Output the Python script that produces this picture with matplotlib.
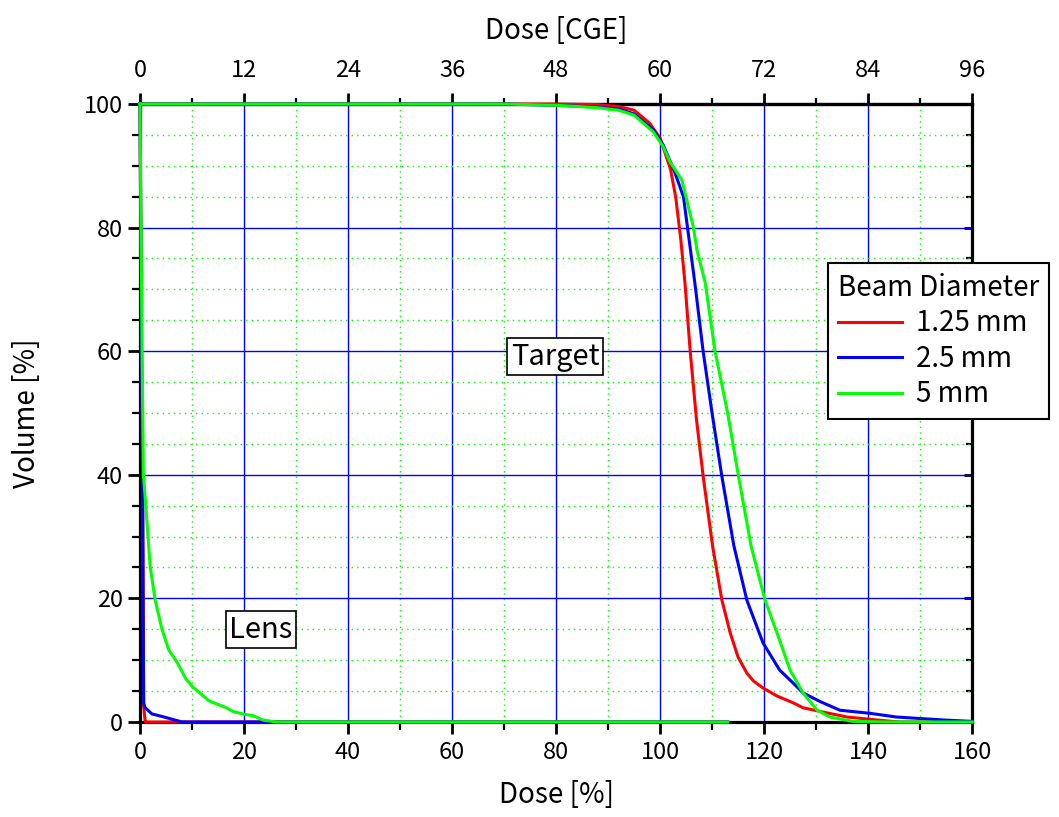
import matplotlib
matplotlib.use("Agg")
import matplotlib.pyplot as plt
from matplotlib.ticker import MultipleLocator, NullFormatter, FixedLocator

plt.rcParams['font.family'] = ['Noto Sans CJK JP', 'DejaVu Sans']

# ---- data (Dose [%], Volume [%]) ----
red_t_x = [0, 80, 88, 92, 95, 98, 100, 102, 103, 104, 104.8, 105.8, 107, 108.3, 110.1,
           111.9, 113.5, 115, 116.7, 118, 119.8, 122.5, 125.6, 127.5, 130.8, 136, 142, 146, 160]
red_t_y = [100, 100, 99.9, 99.6, 99, 96.9, 94.5, 89.5, 85, 78, 71, 60, 49, 39.7, 28.5,
           19.7, 14.4, 10.5, 7.9, 6.6, 5.5, 4.2, 3.1, 2.3, 1.7, 0.8, 0.3, 0, 0]

blue_t_x = [0, 70, 80, 88, 92, 95, 98.7, 100.6, 102.9, 104.5, 105.6, 106.7, 108.3, 110,
            111.9, 114.2, 116.7, 119.8, 123, 125.6, 127.5, 130.8, 134.6, 140.4, 145.5, 155, 160]
blue_t_y = [100, 100, 99.8, 99.5, 99.2, 98.4, 95.8, 93.4, 88.8, 85, 78, 71, 59.9, 50,
            39.7, 28.5, 19.7, 12.8, 8.4, 6.3, 4.7, 3.3, 1.9, 1.4, 0.8, 0.3, 0.1]

green_t_x = [0, 70, 80, 88, 92, 95, 98.7, 100.6, 102, 104.2, 106.4, 107.1, 108.7, 110.6,
             113, 115.1, 117.5, 120.2, 122.5, 125, 127.5, 130.2, 132.7, 137, 143.6, 160]
green_t_y = [100, 100, 99.8, 99.4, 99, 98.2, 95.5, 93.1, 90.5, 87.7, 80.1, 76.4, 71, 59.9,
             50, 39.7, 28.5, 19.7, 14.4, 8.4, 4.7, 1.9, 0.8, 0.1, 0, 0]

red_l_x = [0, 0.3, 0.5, 0.7, 1.0, 1.2, 113]
red_l_y = [100, 60, 40, 2.5, 0.1, 0, 0]

blue_l_x = [0, 0.3, 0.5, 0.7, 1.0, 2.3, 4.2, 6.8, 8.1, 113]
blue_l_y = [100, 60, 38, 3.0, 2.3, 1.3, 0.9, 0.3, 0, 0]

green_l_x = [0, 0.2, 0.4, 0.65, 1.1, 1.95, 2.9, 4.2, 5.5, 7.1, 8.8, 10.1, 13.3, 16.6,
             17.9, 19.8, 21.8, 23.7, 26.3, 113]
green_l_y = [100, 80, 60, 40, 35.2, 25.2, 19.8, 15.1, 11.7, 9.7, 7.0, 5.7, 3.4, 2.3,
             1.7, 1.3, 1.0, 0.3, 0, 0]

series_labels = ['1.25 mm', '2.5 mm', '5 mm']
colors = ['#ff0000', '#0000ff', '#00ff00']
cge_ticks = [0, 12, 24, 36, 48, 60, 72, 84, 96]
cge_minor = [6, 18, 30, 42, 54, 66, 78, 90]

fig = plt.figure(figsize=(10.59, 8.17), dpi=100)
rect = [0.1322, 0.1163, 0.7857, 0.7564]

# right-side inward ticks on a separate axes placed beneath the main one
axr = fig.add_axes(rect, zorder=0)
axr.set_xlim(0, 160)
axr.set_ylim(0, 100)
axr.xaxis.set_visible(False)
axr.yaxis.tick_right()
axr.yaxis.set_major_locator(MultipleLocator(20))
axr.yaxis.set_minor_locator(MultipleLocator(5))
axr.yaxis.set_major_formatter(NullFormatter())
axr.tick_params(axis='y', which='major', direction='in', length=6, width=2)
axr.tick_params(axis='y', which='minor', direction='in', length=4, width=1.6)
for s in axr.spines.values():
    s.set_visible(False)

ax = fig.add_axes(rect, zorder=1)
ax.patch.set_visible(False)

lw = 2.2
for (lx, ly, tx, ty), c, lab in zip(
        [(red_l_x, red_l_y, red_t_x, red_t_y),
         (blue_l_x, blue_l_y, blue_t_x, blue_t_y),
         (green_l_x, green_l_y, green_t_x, green_t_y)], colors, series_labels):
    ax.plot(tx, ty, color=c, lw=lw, label=lab, zorder=3, clip_on=False)
    ax.plot(lx, ly, color=c, lw=lw, zorder=3, clip_on=False)

ax.set_xlim(0, 160)
ax.set_ylim(0, 100)
ax.xaxis.set_major_locator(MultipleLocator(20))
ax.xaxis.set_minor_locator(MultipleLocator(10))
ax.yaxis.set_major_locator(MultipleLocator(20))
ax.yaxis.set_minor_locator(MultipleLocator(5))

ax.grid(which='major', color='#0000ff', lw=1.0, ls='-', zorder=1)
ax.grid(which='minor', color='#00ff00', lw=1.0, ls=(0, (1, 3)), zorder=1)
ax.set_axisbelow(True)

for s in ax.spines.values():
    s.set_linewidth(2.3)
    s.set_color('black')

ax.tick_params(axis='both', which='major', direction='out', length=8.5, width=2,
               labelsize=17)
ax.tick_params(axis='x', which='major', pad=5)
ax.tick_params(axis='y', which='major', pad=4)
ax.tick_params(axis='both', which='minor', direction='out', length=5.5, width=1.6)

secx = ax.secondary_xaxis('top', functions=(lambda v: v * 0.6, lambda v: v / 0.6))
secx.xaxis.set_major_locator(FixedLocator(cge_ticks))
secx.xaxis.set_minor_locator(FixedLocator(cge_minor))
secx.tick_params(which='major', direction='out', length=8, width=2, labelsize=17, pad=8)
secx.tick_params(which='minor', direction='out', length=4.5, width=1.6)
secx.spines['top'].set_linewidth(2.3)
secx.set_xlabel('Dose [CGE]', fontsize=20, labelpad=14)

ax.set_xlabel('Dose [%]', fontsize=20, labelpad=12)
ax.set_ylabel('Volume [%]', fontsize=20, labelpad=30)

box = dict(boxstyle='square,pad=0.12', fc='white', ec='black', lw=1.2)
ax.text(79.8, 59.1, 'Target', fontsize=21, ha='center', va='center', bbox=box, zorder=5)
ax.text(23.3, 14.9, 'Lens', fontsize=21, ha='center', va='center', bbox=box, zorder=5)

leg = ax.legend(title='Beam Diameter', loc='upper left', bbox_to_anchor=(0.7819, 0.6781),
                bbox_transform=fig.transFigure, fontsize=20, title_fontsize=20,
                frameon=True, fancybox=False, edgecolor='black', framealpha=1,
                handlelength=2.3, handletextpad=0.5, borderpad=0.35, labelspacing=0.2,
                borderaxespad=0)
leg._legend_box.align = 'left'
leg.get_frame().set_linewidth(1.5)
leg.set_zorder(6)

fig.savefig('out.png', dpi=100)
